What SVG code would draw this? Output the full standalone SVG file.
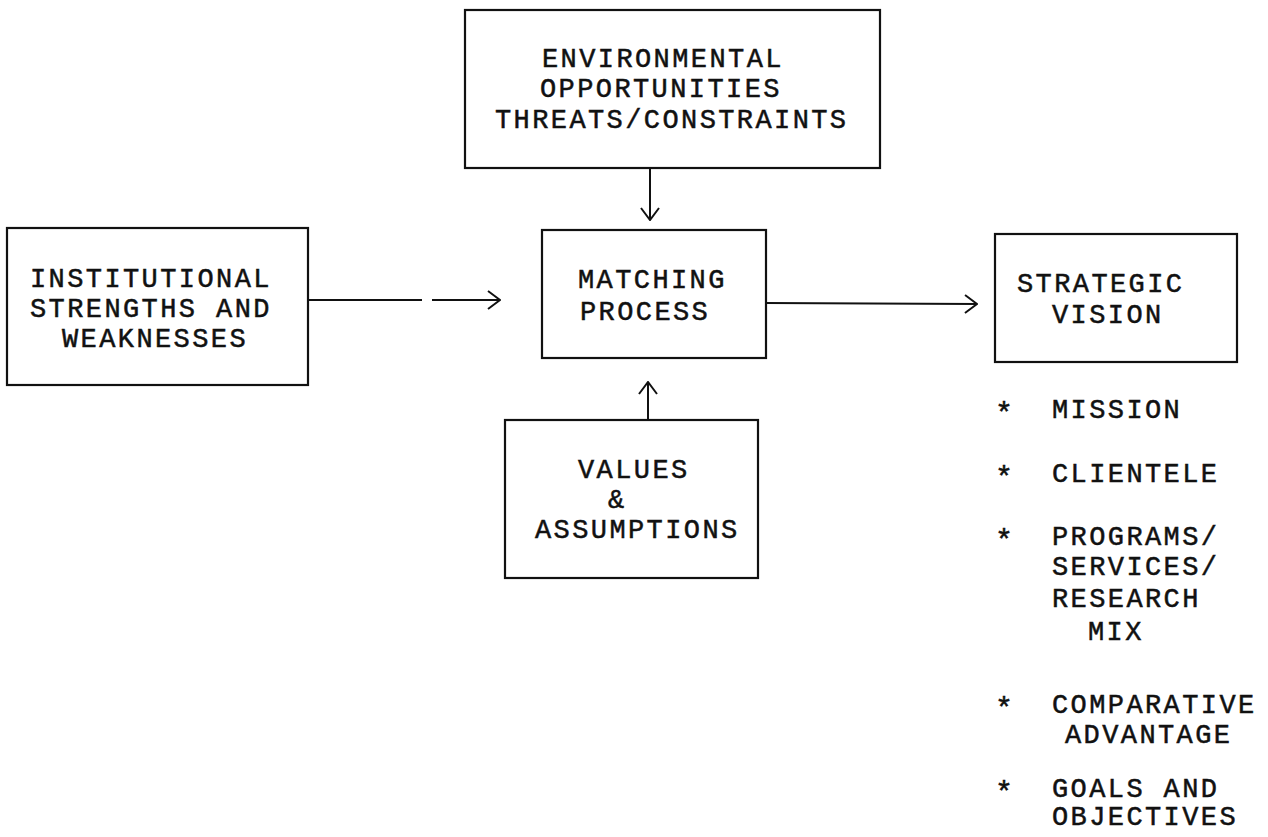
<svg xmlns="http://www.w3.org/2000/svg" width="1268" height="837" viewBox="0 0 1268 837">
<style>
  .box{fill:none;stroke:#111;stroke-width:2.2}
  .t{font-family:"Liberation Mono","Courier New",monospace;font-size:27px;letter-spacing:2.4px;fill:#111;stroke:#111;stroke-width:0.5}
  .s{font-family:"Liberation Mono","Courier New",monospace;font-size:30px;fill:#111;stroke:#111;stroke-width:0.5}
  .c{fill:none;stroke:#111;stroke-width:2}
</style>
<defs>
  <marker id="ah" viewBox="0 0 14 20" refX="13" refY="10" markerWidth="14" markerHeight="20" markerUnits="userSpaceOnUse" orient="auto">
    <path d="M1,1 L13,10 L1,19" fill="none" stroke="#111" stroke-width="2"/>
  </marker>
</defs>
<rect width="1268" height="837" fill="#fff"/>
<g id="env">
  <rect class="box" x="465" y="10" width="415" height="158"/>
  <text class="t" x="542" y="67">ENVIRONMENTAL</text>
  <text class="t" x="540" y="97">OPPORTUNITIES</text>
  <text class="t" x="495" y="128">THREATS/CONSTRAINTS</text>
</g>
<g id="inst">
  <rect class="box" x="7" y="228" width="301" height="157"/>
  <text class="t" x="30" y="287">INSTITUTIONAL</text>
  <text class="t" x="30" y="317">STRENGTHS AND</text>
  <text class="t" x="62" y="347">WEAKNESSES</text>
</g>
<g id="matching">
  <rect class="box" x="542" y="230" width="224" height="128"/>
  <text class="t" x="578" y="288">MATCHING</text>
  <text class="t" x="580" y="320">PROCESS</text>
</g>
<g id="values">
  <rect class="box" x="505" y="420" width="253" height="158"/>
  <text class="t" x="578" y="478">VALUES</text>
  <text class="t" x="608" y="508">&amp;</text>
  <text class="t" x="535" y="538">ASSUMPTIONS</text>
</g>
<g id="strategic">
  <rect class="box" x="995" y="234" width="242" height="128"/>
  <text class="t" x="1017" y="292">STRATEGIC</text>
  <text class="t" x="1052" y="323">VISION</text>
</g>
<g id="list">
  <text class="s" x="995" y="423">*</text>
  <text class="t" x="1052" y="418">MISSION</text>
  <text class="s" x="995" y="487">*</text>
  <text class="t" x="1052" y="482">CLIENTELE</text>
  <text class="s" x="995" y="550">*</text>
  <text class="t" x="1052" y="545">PROGRAMS/</text>
  <text class="t" x="1052" y="575">SERVICES/</text>
  <text class="t" x="1052" y="607">RESEARCH</text>
  <text class="t" x="1088" y="640">MIX</text>
  <text class="s" x="995" y="718">*</text>
  <text class="t" x="1052" y="713">COMPARATIVE</text>
  <text class="t" x="1065" y="743">ADVANTAGE</text>
  <text class="s" x="995" y="802">*</text>
  <text class="t" x="1052" y="797">GOALS AND</text>
  <text class="t" x="1052" y="825">OBJECTIVES</text>
</g>
<g id="connectors">
  <line class="c" x1="650" y1="168" x2="650" y2="220" marker-end="url(#ah)"/>
  <line class="c" x1="308" y1="300" x2="422" y2="300"/>
  <line class="c" x1="432" y1="300" x2="500" y2="300" marker-end="url(#ah)"/>
  <line class="c" x1="648" y1="420" x2="648" y2="382" marker-end="url(#ah)"/>
  <line class="c" x1="766" y1="303" x2="977" y2="304" marker-end="url(#ah)"/>
</g>
</svg>
